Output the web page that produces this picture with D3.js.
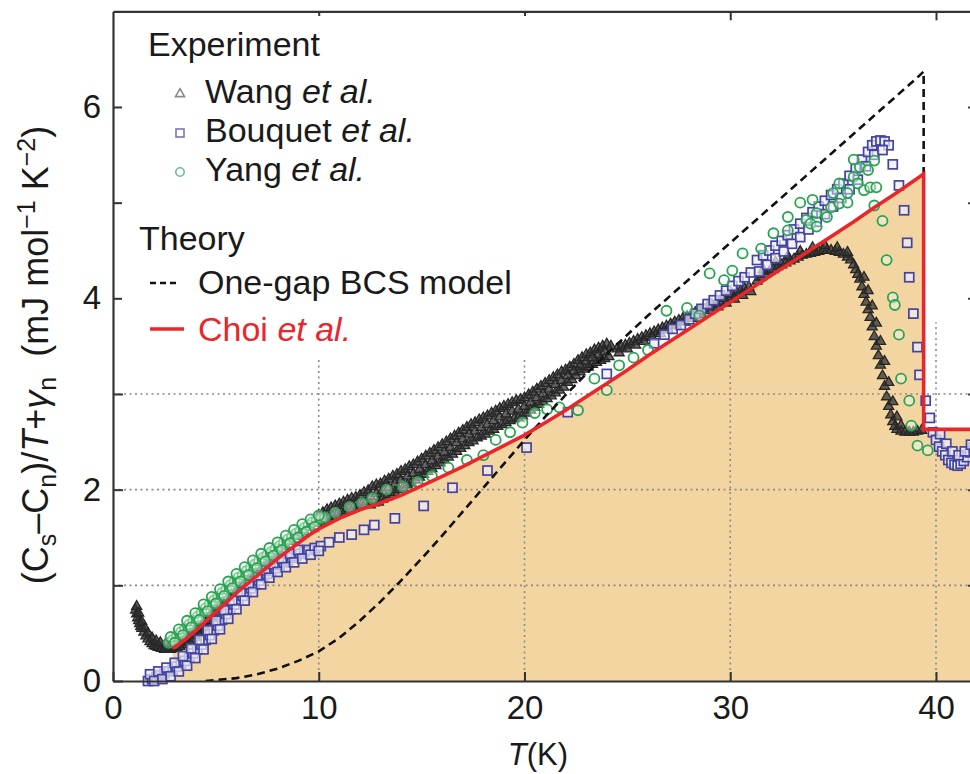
<!DOCTYPE html>
<html>
<head>
<meta charset="utf-8">
<script src="https://cdn.jsdelivr.net/npm/d3@7"></script>
<style>
  body { margin: 0; background: #fff; }
  svg { display: block; }
  text { font-family: "Liberation Sans", Arial, Helvetica, sans-serif; fill: #1a1a1a; }
</style>
</head>
<body>
<svg id="chart" width="970" height="774"></svg>
<script>
// ---- axis ticks ----
const xTicks = [0, 10, 20, 30, 40];
const yTicks = [0, 1, 2, 3, 4, 5, 6];
const yTickLabels = [0, 2, 4, 6];
const gridX = [10, 20, 30, 40];
const gridY = [1, 2, 3];

// ---- theory curves: [T (K), (Cs-Cn)/T + gamma_n] ----
const choiCurve = [
  [2.9,0.34],[3.5,0.43],[4,0.52],[4.5,0.62],[5,0.72],[5.5,0.82],[6,0.92],[6.5,1.01],[7,1.10],[7.5,1.19],
  [8,1.28],[8.5,1.36],[9,1.44],[9.5,1.52],[10,1.59],[11,1.70],[12,1.79],[13,1.86],[14,1.94],[15,2.04],
  [16,2.14],[17,2.24],[18,2.35],[19,2.46],[20,2.57],[21,2.70],[22,2.83],[23,2.97],[24,3.11],[25,3.25],
  [26,3.40],[27,3.54],[28,3.68],[29,3.82],[30,3.96],[31,4.10],[32,4.24],[33,4.38],[34,4.52],[35,4.66],
  [36,4.80],[37,4.95],[38,5.09],[39,5.24],[39.4,5.30],[39.4,2.63],[42,2.63]
];
const bcsCurve = [
  [4.5,0.0],[5,0.01],[6,0.03],[7,0.07],[8,0.13],[9,0.21],[10,0.31],[11,0.45],[12,0.63],[13,0.83],
  [14,1.05],[15,1.28],[16,1.52],[17,1.77],[18,2.02],[19,2.27],[20,2.52],[21,2.76],[22,2.99],[23,3.21],
  [24,3.42],[25,3.62],[26,3.82],[27,4.01],[28,4.20],[29,4.39],[30,4.58],[31,4.77],[32,4.96],[33,5.15],
  [34,5.34],[35,5.53],[36,5.72],[37,5.91],[38,6.10],[39,6.29],[39.4,6.37],[39.4,2.63]
];

// ---- experiment: Wang et al. (triangles) ----
const wangData = [
  [1.10,0.74],[1.15,0.70],[1.2,0.66],[1.25,0.63],[1.3,0.60],[1.35,0.57],[1.4,0.55],[1.5,0.51],[1.6,0.47],[1.7,0.44],
  [1.8,0.41],[1.9,0.39],[2.0,0.37],[2.1,0.36],[2.2,0.35],[2.35,0.34],[2.5,0.33],[2.65,0.33],[2.8,0.33],[2.95,0.34],
  [3.1,0.35],[3.25,0.36],[3.4,0.38],[3.55,0.40],[3.7,0.42],[3.85,0.44],[4.0,0.47],[4.15,0.50],[4.3,0.53],[4.45,0.56],
  [4.6,0.60],[4.75,0.63],[4.9,0.67],[5.05,0.71],[5.2,0.75],
  [1.15,0.78],[1.25,0.71],[1.4,0.62],[1.55,0.55],[1.7,0.50],[1.9,0.45],[2.1,0.42],[2.3,0.40],[2.6,0.39],[2.9,0.40],
  [3.2,0.42],[3.5,0.45],[3.8,0.49],[4.1,0.55],[4.4,0.61],[4.7,0.68],[5.0,0.76],
  [5.4,0.80],[5.7,0.87],[6.0,0.94],[6.3,1.00],[6.6,1.06],[6.9,1.12],[7.2,1.18],[7.5,1.24],[7.8,1.30],[8.1,1.35],
  [8.4,1.41],[8.7,1.46],[9.0,1.51],[9.3,1.56],[9.6,1.61],[9.9,1.66],
  [10.0,1.73],[10.2,1.76],[10.4,1.79],[10.6,1.81],[10.8,1.83],[11.0,1.85],[11.2,1.87],[11.4,1.89],[11.6,1.91],[11.8,1.92],
  [12.0,1.94],[12.2,1.97],[12.4,1.99],[12.6,2.03],[12.8,2.05],[13.0,2.06],[13.2,2.09],[13.4,2.11],[13.6,2.14],[13.8,2.16],
  [14.0,2.19],[14.2,2.21],[14.4,2.24],[14.6,2.26],[14.8,2.29],[15.0,2.32],[15.2,2.35],[15.4,2.38],[15.6,2.41],[15.8,2.44],
  [16.0,2.47],[16.2,2.50],[16.4,2.53],[16.6,2.56],[16.8,2.59],[17.0,2.62],[17.2,2.65],[17.4,2.68],[17.6,2.70],[17.8,2.73],
  [18.0,2.75],[18.2,2.77],[18.4,2.80],[18.6,2.82],[18.8,2.85],[19.0,2.87],[19.2,2.89],[19.4,2.91],[19.6,2.93],[19.8,2.94],
  [20.0,2.96],[20.2,2.99],[20.4,3.02],[20.6,3.05],[20.8,3.08],[21.0,3.11],[21.2,3.14],[21.4,3.17],[21.6,3.20],[21.8,3.23],
  [22.0,3.25],[22.2,3.28],[22.4,3.31],[22.6,3.35],[22.8,3.38],[23.0,3.41],[23.2,3.43],[23.4,3.46],[23.6,3.48],[23.8,3.50],
  [24.0,3.52],[24.2,3.50],
  [10.1,1.65],[10.3,1.68],[10.5,1.70],[10.7,1.72],[10.9,1.74],[11.1,1.76],[11.3,1.78],[11.5,1.80],[11.7,1.82],[11.9,1.83],
  [12.1,1.85],[12.3,1.87],[12.5,1.84],[12.7,1.86],[12.9,1.87],[13.1,1.90],[13.3,1.92],[13.5,1.95],[13.7,1.97],[13.9,2.00],
  [14.1,2.02],[14.3,2.05],[14.5,2.07],[14.7,2.10],[14.9,2.13],[15.1,2.16],[15.3,2.19],[15.5,2.22],[15.7,2.25],[15.9,2.28],
  [16.1,2.31],[16.3,2.34],[16.5,2.37],[16.7,2.40],[16.9,2.43],[17.1,2.46],[17.3,2.49],[17.5,2.51],[17.7,2.54],[17.9,2.56],
  [18.1,2.58],[18.3,2.61],[18.5,2.63],[18.7,2.66],[18.9,2.68],[19.1,2.70],[19.3,2.72],[19.5,2.74],[19.7,2.75],[19.9,2.77],
  [20.1,2.80],[20.3,2.83],[20.5,2.86],[20.7,2.89],[20.9,2.92],[21.1,2.95],[21.3,2.98],[21.5,3.01],[21.7,3.04],[21.9,3.07],
  [22.1,3.12],[22.3,3.15],[22.5,3.19],[22.7,3.23],[22.9,3.26],[23.1,3.28],[23.3,3.31],[23.5,3.33],[23.7,3.35],[23.9,3.37],
  [24.1,3.39],
  [12.5,1.93],[12.8,1.96],[13.1,1.99],[13.4,2.02],[13.7,2.06],[14.0,2.10],[14.3,2.14],[14.6,2.17],[14.9,2.21],[15.2,2.26],
  [15.5,2.30],[15.8,2.35],[16.1,2.39],[16.4,2.44],[16.7,2.49],[17.0,2.53],[17.3,2.58],[17.6,2.61],[17.9,2.65],[18.2,2.68],
  [18.5,2.72],[18.8,2.76],[19.1,2.79],[19.4,2.82],[19.7,2.84],[20.0,2.87],[20.3,2.91],[20.6,2.96],[20.9,3.00],[21.2,3.05],
  [21.5,3.10],[21.8,3.14],[22.1,3.19],[22.4,3.24],[22.7,3.29],[23.0,3.34],[23.3,3.38],[23.6,3.41],[23.9,3.44],
  [24.5,3.47],[24.7,3.49],[24.9,3.51],[25.1,3.53],[25.3,3.55],[25.5,3.57],[25.7,3.59],[25.9,3.61],[26.1,3.63],[26.3,3.65],
  [26.5,3.67],[26.7,3.69],[26.9,3.71],[27.1,3.73],[27.3,3.75],[27.5,3.77],[27.7,3.79],[27.9,3.81],[28.1,3.83],[28.3,3.85],
  [28.5,3.87],[28.7,3.89],[28.9,3.91],[29.1,3.93],[29.3,3.95],[29.5,3.97],[29.7,4.00],[29.9,4.02],[30.1,4.04],[30.3,4.06],
  [30.5,4.08],[30.7,4.10],[30.9,4.12],
  [24.6,3.43],[25.0,3.47],[25.4,3.51],[25.8,3.55],[26.2,3.59],[26.6,3.63],[27.0,3.67],[27.4,3.71],[27.8,3.75],[28.2,3.79],
  [28.6,3.83],[29.0,3.87],[29.4,3.91],[29.8,3.95],[30.2,3.99],[30.6,4.03],[31.0,4.07],
  [31.3,4.18],[31.5,4.22],[31.7,4.25],[31.9,4.28],[32.1,4.30],[32.3,4.33],[32.5,4.35],[32.7,4.37],[32.9,4.39],[33.1,4.41],
  [33.3,4.43],[33.5,4.45],[33.7,4.46],[33.9,4.47],[34.1,4.48],[34.3,4.49],[34.5,4.50],[34.7,4.50],[34.9,4.50],[35.1,4.49],
  [35.3,4.48],[35.5,4.46],[35.7,4.43],[35.85,4.40],[36.0,4.35],[36.1,4.30],[36.2,4.25],[36.3,4.20],[36.4,4.12],[36.5,4.04],
  [36.6,3.96],[36.7,3.88],[36.8,3.80],[36.9,3.70],[37.0,3.60],[37.1,3.50],[37.2,3.40],[37.3,3.30],[37.4,3.19],[37.5,3.08],
  [37.6,2.97],[37.7,2.87],[37.8,2.78],[37.9,2.71],[38.0,2.66],[38.1,2.63],[38.3,2.61],[38.5,2.60],[38.7,2.60],[38.9,2.60],
  [39.1,2.61],[39.3,2.62],
  [31.6,4.30],[32.2,4.38],[32.8,4.44],[33.4,4.49],[34.0,4.53],[34.6,4.55],[35.2,4.53],[35.7,4.48],
  [36.5,4.22],[36.7,4.08],[36.9,3.92],[37.1,3.74],[37.3,3.55],[37.5,3.34],[37.7,3.12],[37.9,2.92],[38.1,2.76],[38.3,2.67]
];

// ---- experiment: Bouquet et al. (squares) ----
const bouquetData = [
  [1.7,0.00],[1.9,0.02],[2.1,0.04],[2.3,0.06],[2.5,0.08],[2.7,0.10],[2.9,0.12],[3.1,0.15],[3.3,0.18],[3.5,0.21],
  [3.7,0.25],[3.9,0.29],[4.1,0.33],[4.3,0.38],[4.5,0.43],[4.7,0.48],[4.9,0.53],[5.1,0.58],[5.3,0.64],[5.5,0.70],
  [5.7,0.75],[5.9,0.80],[6.1,0.85],[6.3,0.89],[6.5,0.93],[6.7,0.97],[6.9,1.01],[7.1,1.05],[7.3,1.09],[7.5,1.12],
  [7.7,1.15],[7.9,1.18],[8.1,1.21],[8.3,1.24],[8.5,1.26],[8.7,1.29],[8.9,1.31],[9.1,1.33],[9.3,1.35],[9.5,1.37],
  [9.8,1.39],[10.1,1.41],[10.5,1.45],
  [1.8,0.07],[2.2,0.10],[2.6,0.14],[3.0,0.19],[3.4,0.26],[3.8,0.34],[4.2,0.43],[4.6,0.53],[5.0,0.63],[5.4,0.74],
  [5.8,0.84],[6.2,0.93],[6.6,1.01],[7.0,1.09],[7.4,1.16],[7.8,1.22],[8.2,1.28],[8.6,1.33],[9.0,1.37],
  [2.0,0.00],[2.4,0.02],[2.8,0.05],[3.2,0.10],[3.6,0.16],[4.0,0.24],[4.4,0.33],[4.8,0.44],[5.2,0.54],[5.6,0.65],
  [6.0,0.75],[6.4,0.84],[6.8,0.93],[7.2,1.01],[7.6,1.08],[8.0,1.14],[8.4,1.19],[8.8,1.24],[9.2,1.28],[9.6,1.32],[10.0,1.36],
  [11.0,1.50],[11.6,1.53],[12.2,1.58],[12.7,1.63],[13.7,1.70],[15.1,1.83],[16.5,2.02],[18.2,2.20],[20.1,2.44],
  [22.1,2.81],[24.0,3.21],[26.3,3.53],
  [26.8,3.62],[27.2,3.68],[27.6,3.72],[28.0,3.78],[28.3,3.84],[28.6,3.89],[28.9,3.94],[29.2,3.98],[29.5,4.03],[29.8,4.08],
  [30.1,4.13],[30.4,4.18],[30.7,4.22],[31.0,4.27],
  [31.3,4.40],[31.6,4.45],[31.9,4.50],[32.2,4.55],[32.5,4.60],[32.8,4.66],[33.1,4.72],[33.4,4.78],[33.7,4.84],[34.0,4.90],
  [34.3,4.96],[34.6,5.02],[34.9,5.08],[35.2,5.14],[35.5,5.20],[35.8,5.28],[36.1,5.36],[36.4,5.45],[36.7,5.53],[36.9,5.60],
  [37.1,5.64],[37.3,5.65],[37.5,5.64],[37.7,5.60],
  [31.4,4.28],[31.8,4.35],[32.2,4.42],[32.6,4.49],[33.0,4.57],[33.4,4.64],[33.8,4.72],[34.2,4.80],[34.6,4.88],[35.0,4.96],
  [35.4,5.05],[35.8,5.14],[36.2,5.24],[36.6,5.38],[37.0,5.50],[37.4,5.55],
  [37.9,5.40],[38.2,5.18],[38.45,4.92],[38.6,4.58],[38.7,4.22],[38.9,3.84],[39.1,3.49],[39.2,3.20],[39.5,2.93],[39.7,2.75],
  [39.85,2.60],
  [40.0,2.52],[40.15,2.45],[40.3,2.40],[40.45,2.36],[40.6,2.31],[40.75,2.28],[40.9,2.26],[41.05,2.25],[41.2,2.27],[41.35,2.30],
  [41.5,2.34],[41.65,2.39],[41.8,2.44],[41.95,2.49],[40.2,2.58],[40.5,2.48],[40.8,2.40],[41.1,2.36],[41.4,2.40],[41.7,2.47]
];

// ---- experiment: Yang et al. (circles) ----
const yangData = [
  [2.7,0.40],[2.9,0.43],[3.1,0.47],[3.3,0.51],[3.5,0.55],[3.7,0.59],[3.9,0.63],[4.1,0.67],[4.3,0.72],[4.5,0.76],
  [4.7,0.80],[4.9,0.84],[5.1,0.88],[5.3,0.92],[5.5,0.96],[5.7,1.00],[5.9,1.04],[6.1,1.08],[6.3,1.11],[6.5,1.15],
  [6.7,1.19],[6.9,1.22],[7.1,1.26],[7.3,1.29],[7.5,1.32],[7.7,1.35],[7.9,1.38],[8.1,1.41],[8.3,1.45],[8.5,1.48],
  [8.7,1.51],[8.9,1.54],[9.1,1.57],[9.3,1.60],[9.5,1.63],[9.7,1.66],[9.9,1.68],[10.1,1.70],[10.3,1.71],
  [2.8,0.46],[3.2,0.54],[3.6,0.63],[4.0,0.71],[4.4,0.80],[4.8,0.88],[5.2,0.96],[5.6,1.04],[6.0,1.12],[6.4,1.19],
  [6.8,1.26],[7.2,1.33],[7.6,1.39],[8.0,1.45],[8.4,1.52],[8.8,1.58],[9.2,1.64],[9.6,1.69],[10.0,1.73],
  [3.0,0.40],[3.4,0.48],[3.8,0.56],[4.2,0.64],[4.6,0.73],[5.0,0.81],[5.4,0.89],[5.8,0.97],[6.2,1.04],[6.6,1.11],
  [7.0,1.18],[7.4,1.25],[7.8,1.31],[8.2,1.37],[8.6,1.44],[9.0,1.50],[9.4,1.56],[9.8,1.61],
  [10.8,1.76],[11.5,1.82],[12.1,1.86],[12.6,1.91],[13.3,2.00],[14.1,2.03],[14.8,2.08],[15.5,2.14],[16.3,2.23],[17.2,2.31],
  [18.0,2.36],[18.6,2.52],[19.3,2.60],[19.9,2.70],[20.5,2.80],[21.1,2.84],[21.7,2.86],[22.6,2.83],[23.4,3.16],[24.0,3.04],
  [24.6,3.30],[25.3,3.38],[26.0,3.46],[26.9,3.87],[27.9,3.90],[28.5,3.82],[29.0,4.26],[29.7,4.19],[30.1,4.29],[30.6,4.47],
  [31.5,4.52],[32.1,4.68],[32.8,4.71],[32.8,4.85],[33.4,5.00],[33.7,4.82],[33.9,4.78],[34.0,5.03],[34.2,4.75],[34.2,4.89],
  [34.7,4.85],[34.9,4.95],[35.0,5.10],[35.3,4.99],[35.3,5.20],[35.7,5.00],[35.7,5.10],[36.0,5.27],[36.0,5.45],[36.2,5.20],
  [36.3,5.37],[36.5,5.13],[36.7,5.34],[36.8,5.16],[37.0,5.44],[37.1,5.16],[37.0,4.97],
  [37.4,4.81],[37.6,4.40],[37.9,4.01],[38.0,3.93],[38.2,3.62],[38.3,3.16],[38.7,2.93],[38.8,2.67],[39.1,2.46],[39.6,2.41]
];

// ---- legend entries ----
const legendExperiment = [
  { name: "Wang ", ital: "et al.", symbol: "triangle", color: "#8a8a8a" },
  { name: "Bouquet ", ital: "et al.", symbol: "square", color: "#7878b8" },
  { name: "Yang ", ital: "et al.", symbol: "circle", color: "#6cbf8a" }
];

// ---- layout ----
const W = 970, H = 774;
const xMax = 42, yMax = 7;
const x = d3.scaleLinear().domain([0, xMax]).range([113, 113 + xMax * 20.575]);
const y = d3.scaleLinear().domain([0, yMax]).range([681, 681 - yMax * 95.67]);

const svg = d3.select("#chart");
svg.append("rect").attr("width", W).attr("height", H).attr("fill", "#fff");

svg.append("defs").append("clipPath").attr("id", "plot-clip")
  .append("rect")
  .attr("x", x(0)).attr("y", y(yMax))
  .attr("width", x(xMax) - x(0)).attr("height", y(0) - y(yMax));

const plot = svg.append("g").attr("clip-path", "url(#plot-clip)");

// shaded region under the Choi et al. curve
plot.append("path")
  .datum(choiCurve)
  .attr("fill", "#f3d5a1")
  .attr("d", d3.area().x(d => x(d[0])).y0(y(0)).y1(d => y(d[1])));

// dotted grid, lower part of the plot
const gridTop = 3.75;
plot.append("g").selectAll("line").data(gridX).join("line")
  .attr("x1", d => x(d)).attr("x2", d => x(d))
  .attr("y1", y(0)).attr("y2", y(gridTop))
  .attr("stroke", "#8a8a8a").attr("stroke-width", 1.6).attr("stroke-dasharray", "2,3.5");
plot.append("g").selectAll("line").data(gridY).join("line")
  .attr("x1", x(0)).attr("x2", x(xMax))
  .attr("y1", d => y(d)).attr("y2", d => y(d))
  .attr("stroke", "#8a8a8a").attr("stroke-width", 1.6).attr("stroke-dasharray", "2,3.5");

// experimental points (not clipped: markers may overhang the axes)
const marks = svg.append("g");
const tri = d3.symbol().type(d3.symbolTriangle).size(44);
marks.append("g").selectAll("path").data(wangData).join("path")
  .attr("transform", d => `translate(${x(d[0])},${y(d[1])})`)
  .attr("d", tri)
  .attr("fill", "#333").attr("fill-opacity", 0.75)
  .attr("stroke", "#262626").attr("stroke-width", 1.3);

const sq = 9;
marks.append("g").selectAll("rect").data(bouquetData).join("rect")
  .attr("x", d => x(d[0]) - sq / 2).attr("y", d => y(d[1]) - sq / 2)
  .attr("width", sq).attr("height", sq)
  .attr("fill", "#eeedf8").attr("fill-opacity", 0.7)
  .attr("stroke", "#4343a0").attr("stroke-width", 1.7);

marks.append("g").selectAll("circle").data(yangData).join("circle")
  .attr("cx", d => x(d[0])).attr("cy", d => y(d[1])).attr("r", 5)
  .attr("fill", "#eef8f0").attr("fill-opacity", 0.45)
  .attr("stroke", "#2aa252").attr("stroke-width", 1.8);

// theory curves
const line = d3.line().x(d => x(d[0])).y(d => y(d[1]));
const theory = svg.append("g").attr("clip-path", "url(#plot-clip)");
theory.append("path").datum(bcsCurve)
  .attr("fill", "none").attr("stroke", "#111").attr("stroke-width", 2.6)
  .attr("stroke-dasharray", "8,5").attr("d", line);
theory.append("path").datum(choiCurve)
  .attr("fill", "none").attr("stroke", "#e8262b").attr("stroke-width", 3.6)
  .attr("stroke-linejoin", "miter").attr("d", line);

// ---- axes (ticks pointing inward) ----
const axisColor = "#333";
function styleAxis(g) {
  g.select(".domain").attr("stroke", axisColor).attr("stroke-width", 2.2);
  g.selectAll(".tick line").attr("stroke", axisColor).attr("stroke-width", 2);
  g.selectAll(".tick text").attr("fill", "#1a1a1a")
    .style("font-size", "33px").style("font-family", '"Liberation Sans", Arial, sans-serif');
}
svg.append("g").attr("transform", `translate(0,${y(0)})`)
  .call(d3.axisBottom(x).tickValues(xTicks).tickSizeInner(-9).tickSizeOuter(0).tickPadding(15))
  .call(styleAxis);
svg.append("g").attr("transform", `translate(0,${y(yMax)})`)
  .call(d3.axisTop(x).tickValues(xTicks.slice(1)).tickSizeInner(-9).tickSizeOuter(0).tickFormat(""))
  .call(styleAxis);
svg.append("g").attr("transform", `translate(${x(0)},0)`)
  .call(d3.axisLeft(y).tickValues(yTicks).tickSizeInner(-10).tickSizeOuter(0).tickPadding(12)
    .tickFormat(d => yTickLabels.includes(d) ? d : ""))
  .call(styleAxis);
svg.append("g").attr("transform", `translate(${x(xMax)},0)`)
  .call(d3.axisRight(y).tickValues(yTicks.slice(1)).tickSizeInner(-9).tickSizeOuter(0).tickFormat(""))
  .call(styleAxis);

// ---- axis titles ----
const xt = svg.append("text").attr("x", 538).attr("y", 765)
  .attr("text-anchor", "middle").style("font-size", "31px");
xt.append("tspan").style("font-style", "italic").text("T");
xt.append("tspan").text("(K)");

const yt = svg.append("text")
  .attr("transform", "translate(48,355) rotate(-90)")
  .attr("text-anchor", "middle").style("font-size", "36px");
const small = "25px";
yt.append("tspan").text("(C");
yt.append("tspan").attr("dy", 8).style("font-size", small).text("s");
yt.append("tspan").attr("dy", -8).text("\u2013C");
yt.append("tspan").attr("dy", 8).style("font-size", small).text("n");
yt.append("tspan").attr("dy", -8).text(")/");
yt.append("tspan").style("font-style", "italic").text("T");
yt.append("tspan").text("+");
yt.append("tspan").style("font-style", "italic").text("\u03b3");
yt.append("tspan").attr("dy", 8).style("font-size", small).text("n");
yt.append("tspan").attr("dy", -8).text("\u00a0\u00a0(mJ mol");
yt.append("tspan").attr("dy", -13).style("font-size", small).text("\u22121");
yt.append("tspan").attr("dy", 13).text("\u00a0K");
yt.append("tspan").attr("dy", -13).style("font-size", small).text("\u22122");
yt.append("tspan").attr("dy", 13).text(")");

// ---- legend ----
const lg = svg.append("g");
lg.append("rect").attr("x", 122).attr("y", 16).attr("width", 440).attr("height", 341).attr("fill", "#fff");
const lfs = "34px";
lg.append("text").attr("x", 148).attr("y", 56).style("font-size", lfs).text("Experiment");
const rowY = [103, 142, 181];
legendExperiment.forEach((d, i) => {
  const cy = rowY[i] - 9;
  if (d.symbol === "triangle") {
    lg.append("path").attr("transform", `translate(180,${cy})`)
      .attr("d", d3.symbol().type(d3.symbolTriangle).size(36))
      .attr("fill", "none").attr("stroke", d.color).attr("stroke-width", 1.6);
  } else if (d.symbol === "square") {
    lg.append("rect").attr("x", 176).attr("y", cy - 4).attr("width", 8).attr("height", 8)
      .attr("fill", "none").attr("stroke", d.color).attr("stroke-width", 1.6);
  } else {
    lg.append("circle").attr("cx", 180).attr("cy", cy).attr("r", 4.2)
      .attr("fill", "none").attr("stroke", d.color).attr("stroke-width", 1.6);
  }
  const t = lg.append("text").attr("x", 205).attr("y", rowY[i]).style("font-size", lfs);
  t.append("tspan").text(d.name);
  t.append("tspan").style("font-style", "italic").text(d.ital);
});
lg.append("text").attr("x", 139).attr("y", 250).style("font-size", lfs).text("Theory");
lg.append("line").attr("x1", 150).attr("x2", 178).attr("y1", 283).attr("y2", 283)
  .attr("stroke", "#111").attr("stroke-width", 2.4).attr("stroke-dasharray", "6,4");
lg.append("text").attr("x", 198).attr("y", 294).style("font-size", lfs).text("One-gap BCS model");
lg.append("line").attr("x1", 150).attr("x2", 184).attr("y1", 329).attr("y2", 329)
  .attr("stroke", "#e8262b").attr("stroke-width", 3.6);
const ct = lg.append("text").attr("x", 198).attr("y", 341).style("font-size", lfs).style("fill", "#e8262b");
ct.append("tspan").style("fill", "#e8262b").text("Choi ");
ct.append("tspan").style("fill", "#e8262b").style("font-style", "italic").text("et al.");
</script>
</body>
</html>
